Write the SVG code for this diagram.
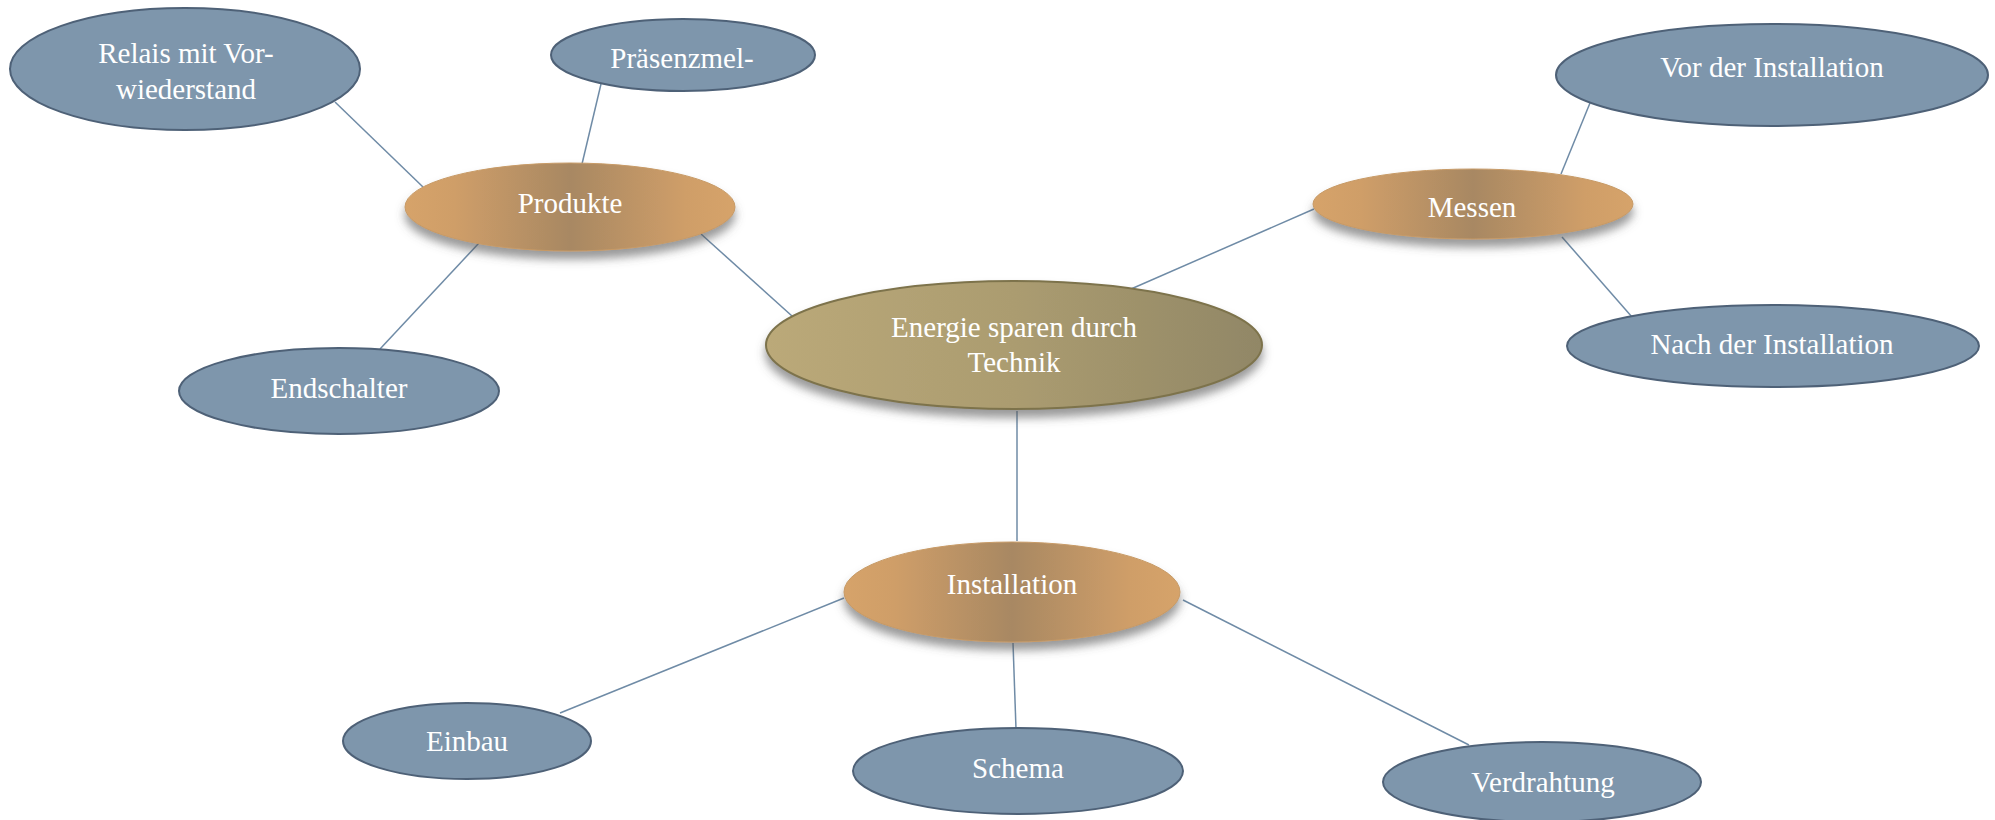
<svg xmlns="http://www.w3.org/2000/svg" width="1995" height="820" viewBox="0 0 1995 820">
<style>
.leaf{fill:#7e96ac;stroke:#4e6177;stroke-width:2}
.sub{fill:url(#og);stroke:#c79a66;stroke-width:1;filter:url(#sh)}
.root{fill:url(#cg);stroke:#7d734c;stroke-width:2;filter:url(#sh)}
.conn line{stroke:#6f8ba6;stroke-width:1.5}
text{font-family:"Liberation Serif","Times New Roman",serif;font-size:29px;fill:#ffffff;text-anchor:middle}
</style>
<defs>
<linearGradient id="og" x1="0" y1="0" x2="1" y2="0">
<stop offset="0" stop-color="#d6a36a"/>
<stop offset="0.15" stop-color="#cf9e68"/>
<stop offset="0.5" stop-color="#a88863"/>
<stop offset="0.85" stop-color="#cf9e68"/>
<stop offset="1" stop-color="#d6a36a"/>
</linearGradient>
<linearGradient id="cg" x1="0" y1="0" x2="1" y2="0">
<stop offset="0" stop-color="#bba979"/>
<stop offset="0.5" stop-color="#ab9c70"/>
<stop offset="1" stop-color="#918766"/>
</linearGradient>
<filter id="sh" x="-20%" y="-30%" width="140%" height="170%">
<feDropShadow dx="0" dy="8" stdDeviation="5" flood-color="#555555" flood-opacity="0.6"/>
</filter>
</defs>
<g id="connectors" class="conn">
<line x1="335" y1="102" x2="423" y2="187"/>
<line x1="601" y1="84" x2="582" y2="164"/>
<line x1="479" y1="243" x2="380" y2="349"/>
<line x1="701" y1="234" x2="792" y2="316"/>
<line x1="1131" y1="289" x2="1314" y2="209"/>
<line x1="1590" y1="103" x2="1561" y2="174"/>
<line x1="1562" y1="237" x2="1632" y2="317"/>
<line x1="1017" y1="411" x2="1017" y2="541"/>
<line x1="844" y1="598" x2="560" y2="713"/>
<line x1="1013" y1="643" x2="1016" y2="729"/>
<line x1="1183" y1="600" x2="1469" y2="745"/>
</g>
<g id="node-relais">
<ellipse class="leaf" cx="185" cy="69" rx="175" ry="61"/>
<text x="186" y="63">Relais mit Vor-</text>
<text x="186" y="99">wiederstand</text>
</g>
<g id="node-praesenz">
<ellipse class="leaf" cx="683" cy="55" rx="132" ry="36"/>
<text x="682" y="68">Präsenzmel-</text>
</g>
<g id="node-endschalter">
<ellipse class="leaf" cx="339" cy="391" rx="160" ry="43"/>
<text x="339" y="398">Endschalter</text>
</g>
<g id="node-produkte">
<ellipse class="sub" cx="570" cy="207" rx="165" ry="44"/>
<text x="570" y="213">Produkte</text>
</g>
<g id="node-center">
<ellipse class="root" cx="1014" cy="345" rx="248" ry="64"/>
<text x="1014" y="337">Energie sparen durch</text>
<text x="1014" y="372">Technik</text>
</g>
<g id="node-messen">
<ellipse class="sub" cx="1473" cy="204" rx="160" ry="35"/>
<text x="1472" y="217">Messen</text>
</g>
<g id="node-vor">
<ellipse class="leaf" cx="1772" cy="75" rx="216" ry="51"/>
<text x="1772" y="77">Vor der Installation</text>
</g>
<g id="node-nach">
<ellipse class="leaf" cx="1773" cy="346" rx="206" ry="41"/>
<text x="1772" y="354">Nach der Installation</text>
</g>
<g id="node-installation">
<ellipse class="sub" cx="1012" cy="592" rx="168" ry="50"/>
<text x="1012" y="594">Installation</text>
</g>
<g id="node-einbau">
<ellipse class="leaf" cx="467" cy="741" rx="124" ry="38"/>
<text x="467" y="751">Einbau</text>
</g>
<g id="node-schema">
<ellipse class="leaf" cx="1018" cy="771" rx="165" ry="43"/>
<text x="1018" y="778">Schema</text>
</g>
<g id="node-verdrahtung">
<ellipse class="leaf" cx="1542" cy="782" rx="159" ry="40"/>
<text x="1543" y="792">Verdrahtung</text>
</g>
</svg>
